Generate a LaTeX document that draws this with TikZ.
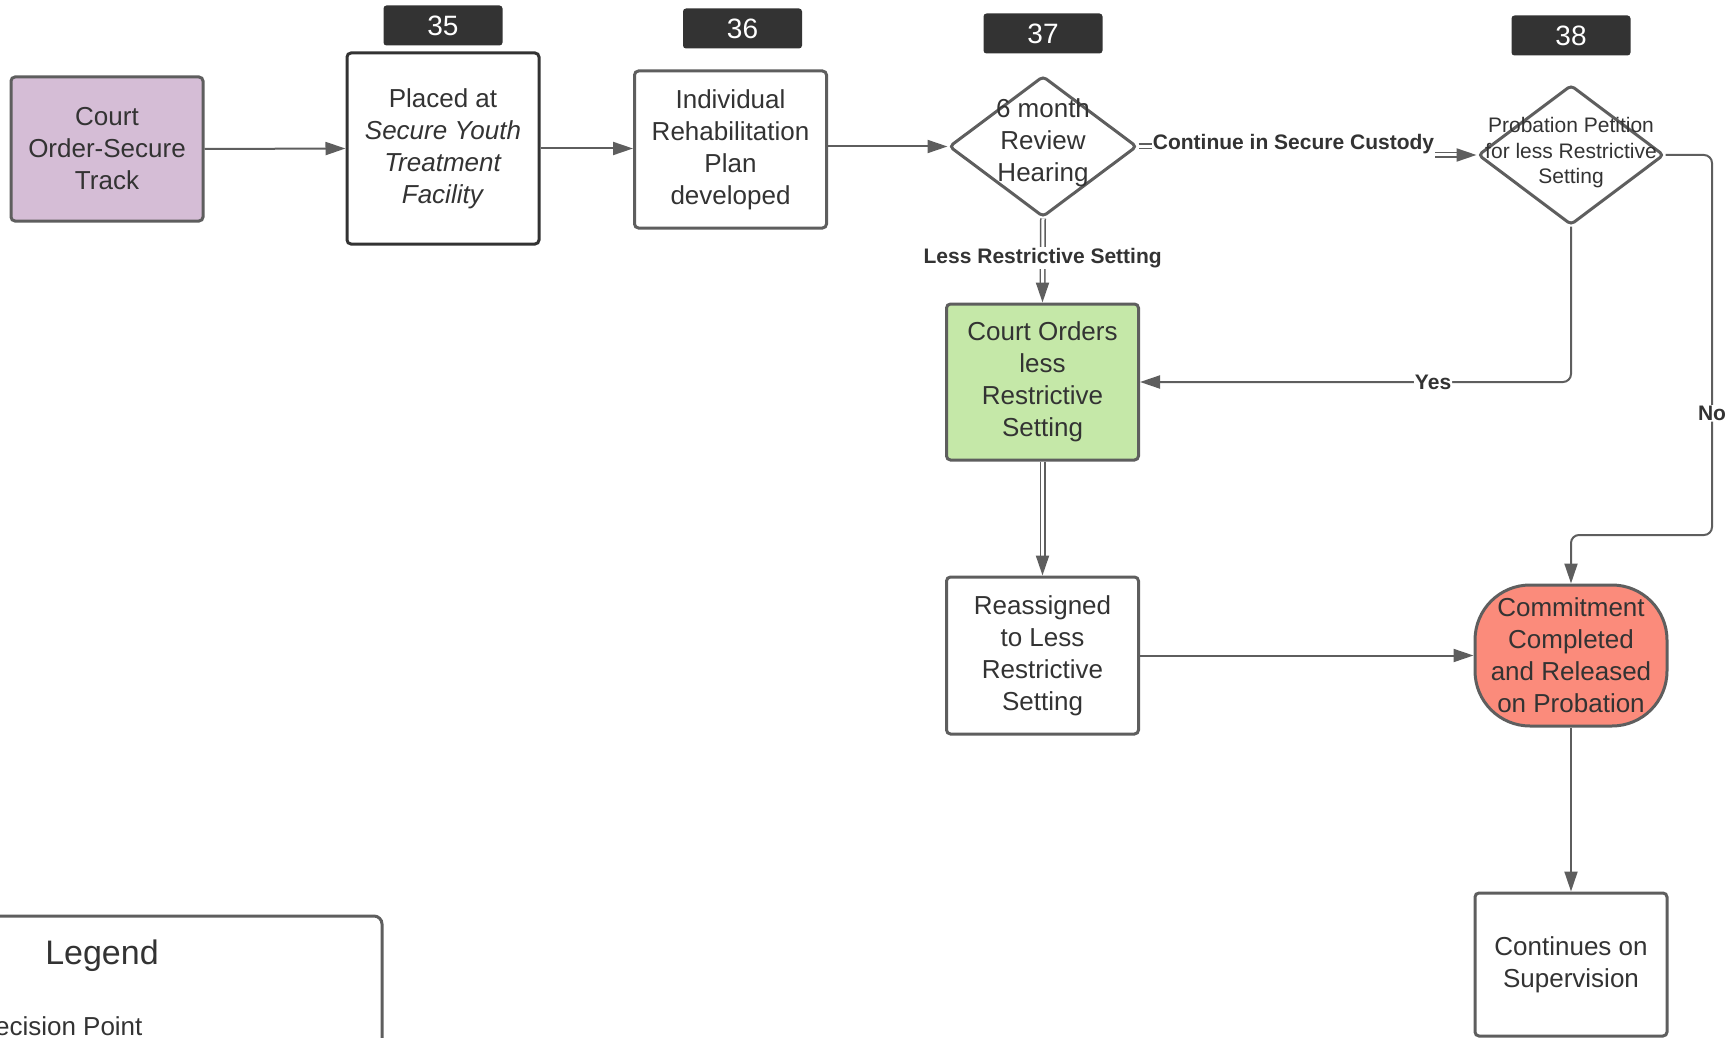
\documentclass[tikz,border=0pt]{standalone}
\usepackage{fontspec}
\setmainfont{Liberation Sans}
\usetikzlibrary{calc}
\usetikzlibrary{arrows.meta}
\usetikzlibrary{shapes.geometric}
\usepackage{xcolor}
\definecolor{ink}{HTML}{333333}
\definecolor{edge}{HTML}{5E5E5E}
\definecolor{lav}{HTML}{D5BDD6}
\definecolor{leaf}{HTML}{C5E8A8}
\definecolor{salmon}{HTML}{FB8B7B}

\begin{document}
\begin{tikzpicture}[x=1pt,y=-1pt,
  txt/.style={font=\fontsize{26}{32}\selectfont, text=ink, align=center},
  box/.style={txt, draw=edge, line width=3pt, rounded corners=4pt, fill=white, minimum width=192pt, inner sep=0pt},
  tag/.style={fill=ink, rounded corners=3pt, text=white, font=\fontsize{28}{32}\selectfont, minimum width=119pt, minimum height=40pt, inner sep=0pt},
  dec/.style={diamond, draw=edge, line width=3pt, rounded corners=4pt, fill=white, minimum width=188pt, minimum height=141pt, inner sep=0pt},
  lab/.style={font=\fontsize{21}{25}\selectfont\bfseries, text=ink, fill=white, inner sep=1pt},
  arr/.style={draw=edge, line width=2pt, -{Triangle[length=20pt,width=13pt]}},
  dbl/.style={draw=edge, line width=1.5pt, double=white, double distance=3pt}
]
\useasboundingbox (0,0) rectangle (1733,1038);
\clip (0,0) rectangle (1733,1038);

% top row
\node[box, fill=lav, minimum height=144pt] (court) at (107,149) {Court\\Order-Secure\\Track};
\node[box, draw=ink, minimum height=191pt] (placed) at (443,148.5) {Placed at\\\textit{Secure Youth}\\\textit{Treatment}\\\textit{Facility}};
\node[box, minimum height=157pt] (irp) at (730.5,149.5) {Individual\\Rehabilitation\\Plan\\developed};
\node[dec] (d37) at (1043,146.5) {};
\node[txt] (d37t) at ($(d37)+(0,-4)$) {6 month\\Review\\Hearing};
\node[dec, minimum width=186pt, minimum height=140pt] (d38) at (1571,155) {};
\node[txt, font=\fontsize{21}{25.5}\selectfont] (d38t) at ($(d38)+(0,-2)$) {Probation Petition\\for less Restrictive\\Setting};

% step numbers
\node[tag] (t35) at (443,25.5) {35};
\node[tag] (t36) at (742.5,28.5) {36};
\node[tag] (t37) at (1043,33.5) {37};
\node[tag] (t38) at (1571,35.5) {38};

% lower boxes
\node[box, fill=leaf, minimum height=156pt] (green) at (1042.5,382) {Court Orders\\less\\Restrictive\\Setting};
\node[box, minimum height=157pt] (reas) at (1042.5,655.5) {Reassigned\\to Less\\Restrictive\\Setting};
\node[box, fill=salmon, rounded corners=55pt, minimum height=141pt] (red) at (1571,655.5) {Commitment\\Completed\\and Released\\on Probation};
\node[box, minimum height=143pt] (cont) at (1571,964.5) {Continues on\\Supervision};

% connectors
\draw[arr] (court.east) -- (placed.west);
\draw[arr] (placed.east) -- (irp.west|-placed.east);
\draw[arr] (irp.east|-d37.west) -- (d37.west);
\coordinate (cscmid) at ($(d37.east)+(155,0)$);
\draw[dbl] (d37.east) -- (cscmid) |- ($(d38.west)+(-18,0)$);
\node[lab, inner ysep=5pt] (csc) at ($(cscmid)+(0,-2.5)$) {Continue in Secure Custody};
\draw[arr] ($(d38.west)+(-20,0)$) -- (d38.west);
\draw[dbl] (d37.south) -- ($(green.north)+(0,-18)$) node[lab, pos=.6] {Less Restrictive Setting};
\draw[arr] ($(green.north)+(0,-20)$) -- (green.north);
\draw[dbl] (green.south) -- ($(reas.north)+(0,-18)$);
\draw[arr] ($(reas.north)+(0,-20)$) -- (reas.north);
\draw[arr, rounded corners=8pt] (d38.south) |- node[lab, pos=.66] {Yes} (green.east);
\coordinate (nobend) at (1712,535);
\draw[arr, rounded corners=8pt] (d38.east) -| node[lab, pos=.84] {No} (nobend) -| (red.north);
\draw[arr] (reas.east) -- (red.west);
\draw[arr] (red.south) -- (cont.north);

% legend
\draw[draw=edge, line width=3pt, rounded corners=8pt] (-30,916) rectangle (382,1100);
\node[txt, font=\fontsize{34}{38}\selectfont] (legend) at (102,956) {Legend};
\node[txt, anchor=east] (decpt) at (146,1026) {Decision Point};
\end{tikzpicture}
\end{document}
